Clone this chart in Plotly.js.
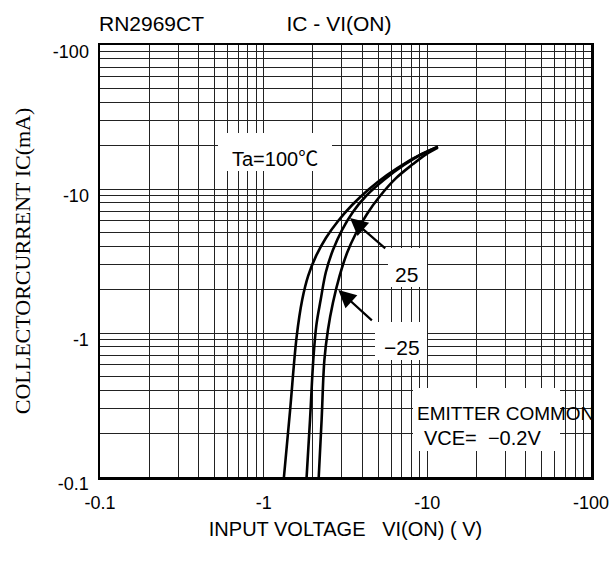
<!DOCTYPE html>
<html>
<head>
<meta charset="utf-8">
<script src="https://cdn.plot.ly/plotly-3.0.1.min.js"></script>
<style>html,body{margin:0;padding:0;background:#fff;}#chart{width:614px;height:561px;}</style>
</head>
<body>
<div id="chart"></div>
<script>
// ---- data ----
const seriesNames = ['Ta=100℃', '25', '−25'];
const vin100 = [1.33, 1.45, 1.59, 1.72, 1.87, 2.09, 2.40, 2.85, 3.47, 4.34, 5.67, 7.51, 9.54, 11.6];
const ic100  = [0.1, 0.29, 0.94, 1.70, 2.49, 3.43, 4.57, 6.00, 7.74, 9.84, 12.5, 15.4, 17.8, 19.7];
const vin25  = [1.83, 1.92, 2.01, 2.10, 2.23, 2.40, 2.65, 3.01, 3.51, 4.22, 5.44, 7.20, 9.28, 11.6];
const ic25   = [0.1, 0.25, 0.65, 1.14, 1.70, 2.65, 3.77, 5.19, 6.93, 8.94, 11.6, 14.7, 17.5, 19.7];
const vinM25 = [2.17, 2.26, 2.35, 2.47, 2.65, 2.91, 3.23, 3.67, 4.28, 5.14, 6.44, 8.18, 9.82, 11.6];
const icM25  = [0.1, 0.25, 0.65, 1.05, 1.62, 2.49, 3.59, 4.95, 6.71, 8.94, 11.9, 14.9, 17.4, 19.4];

const xTickValues = [0.1, 1, 10, 100];
const xTickLabels = ['-0.1', '-1', '-10', '-100'];
const yTickValues = [0.1, 1, 10, 100];
const yTickLabels = ['-0.1', '-1', '-10', '-100'];

const chartTitle = 'IC - VI(ON)';
const partName = 'RN2969CT';
const xTitle = 'INPUT VOLTAGE\u00a0\u00a0\u00a0VI(ON) ( V)';
const yTitle = 'COLLECTORCURRENT IC(mA)';
const condLine1 = 'EMITTER COMMON';
const condLine2 = 'VCE=\u00a0\u00a0−0.2V';
// arrow targets on the curves (data units)
const arrow25 = {x: 3.37, y: 6.3};
const arrowM25 = {x: 2.86, y: 1.99};

// ---- layout geometry ----
const W = 614, H = 561, L = 100, R = 23, T = 45, B = 84;
const PW = W - L - R, PH = H - T - B;
const px = v => (v - L) / PW;
const py = v => (H - B - v) / PH;

// log grid: 1..9 per decade
function logGrid(lo, hi) {
  const out = [];
  for (let d = lo; d < hi; d++) for (let k = 1; k <= 9; k++) out.push(k * Math.pow(10, d));
  out.push(Math.pow(10, hi));
  return out;
}
function gridText(vals, majors, labels) {
  return vals.map(v => {
    const i = majors.findIndex(m => Math.abs(m - v) / m < 1e-6);
    return i >= 0 ? labels[i] : '';
  });
}
const xGrid = logGrid(-1, 2), yGrid = logGrid(-1, 2);

const lineStyle = {color: '#000', width: 2.6, shape: 'spline', smoothing: 1};
const traces = [
  {x: vin100, y: ic100, name: seriesNames[0], mode: 'lines', line: lineStyle},
  {x: vin25, y: ic25, name: seriesNames[1], mode: 'lines', line: lineStyle},
  {x: vinM25, y: icM25, name: seriesNames[2], mode: 'lines', line: lineStyle}
];

const sans = 'Liberation Sans, Arial, sans-serif';
const axisCommon = {
  type: 'log', range: [-1, 2], ticks: '', showgrid: true, gridcolor: '#222', gridwidth: 1,
  showline: true, mirror: true, linecolor: '#000', linewidth: 2.5, zeroline: false,
  tickfont: {family: sans, size: 18, color: '#000'}, automargin: false
};

const whiteBox = (x0, x1, y0, y1) => ({
  type: 'rect', xref: 'paper', yref: 'paper', x0: px(x0), x1: px(x1), y0: py(y1), y1: py(y0),
  fillcolor: '#fff', line: {width: 0}, layer: 'above'
});

const txt = (text, x, y, size, xanchor) => ({
  text: text, xref: 'paper', yref: 'paper', x: px(x), y: py(y), xanchor: xanchor || 'center', yanchor: 'middle',
  showarrow: false, font: {family: sans, size: size, color: '#000'}
});

const arrow = (pt, ax, ay) => ({
  text: '', x: Math.log10(pt.x), y: Math.log10(pt.y), xref: 'x', yref: 'y',
  showarrow: true, arrowhead: 2, arrowsize: 1.6, arrowwidth: 2.2, arrowcolor: '#000',
  ax: ax, ay: ay, standoff: 0
});

const taLabel = 'Ta=100<span style="font-family:Noto Sans CJK JP">℃</span>';

const layout = {
  width: W, height: H, margin: {l: L, r: R, t: T, b: B},
  paper_bgcolor: '#fff', plot_bgcolor: '#fff', showlegend: false,
  title: {text: chartTitle, x: 339 / W, xanchor: 'center', y: 1 - 24 / H, yanchor: 'middle',
          font: {family: sans, size: 21, color: '#000'}},
  xaxis: Object.assign({}, axisCommon, {tickvals: xGrid, ticktext: gridText(xGrid, xTickValues, xTickLabels),
    ticklabelstandoff: 8,
    title: {text: xTitle, standoff: 10, font: {family: sans, size: 20, color: '#000'}}}),
  yaxis: Object.assign({}, axisCommon, {tickvals: yGrid, ticktext: gridText(yGrid, yTickValues, yTickLabels),
    ticklabelstandoff: 5, ticklabelshift: 7,
    title: {text: yTitle, standoff: 16, font: {family: 'Liberation Serif, Times New Roman, serif', size: 22, color: '#000'}}}),
  shapes: [
    whiteBox(218, 332, 133, 171),
    whiteBox(388, 427, 248, 287),
    whiteBox(375, 427, 322, 360),
    whiteBox(413, 560, 388, 451)
  ],
  annotations: [
    txt(partName, 151, 24, 21),
    txt(taLabel, 275, 157, 20),
    txt(seriesNames[1], 406.7, 274, 21),
    txt(seriesNames[2], 401.7, 347, 21),
    txt(condLine1, 415, 413, 19, 'left'),
    txt(condLine2, 421.7, 438, 20, 'left'),
    arrow(arrow25, 36.7, 31.7),
    arrow(arrowM25, 35, 31.7)
  ]
};

Plotly.newPlot('chart', traces, layout, {staticPlot: true, displayModeBar: false});
</script>
</body>
</html>
